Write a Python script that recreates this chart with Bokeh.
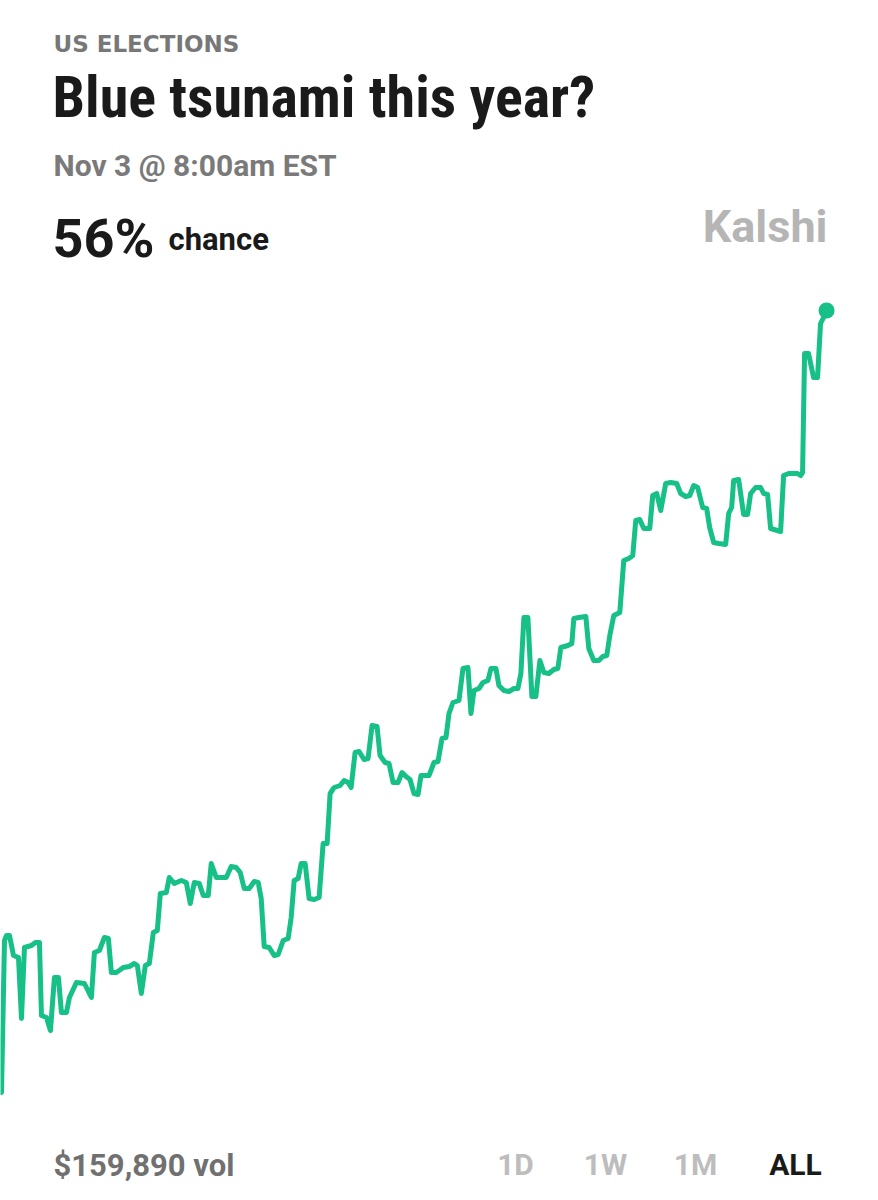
from bokeh.plotting import figure
from bokeh.models import Label, Range1d
from bokeh.embed import file_html
from bokeh.resources import INLINE

# market price history: days since open, chance in percent
days = [0, 0.6, 1.0, 1.6, 2.4, 3.4, 4.0, 4.6, 6.0, 6.8, 7.6, 8.0, 9.0, 9.8, 10.6, 11.4,
        12.0, 13.0, 13.6, 15.0, 16.6, 18.0, 18.6, 19.6, 20.6, 21.4, 22.0, 23.0, 24.4,
        25.6, 26.6, 27.2, 28.0, 28.8, 29.6, 30.4, 31.2, 31.8, 33.0, 33.6, 34.6, 36.0,
        37.0, 37.8, 38.6, 39.6, 40.4, 41.4, 42.0, 43.0, 45.0, 46.0, 47.0, 47.8, 48.6,
        49.6, 50.6, 51.4, 52.0, 52.6, 53.6, 54.6, 55.4, 56.4, 57.4, 58.0, 58.6, 59.4,
        60.0, 60.8, 61.6, 62.6, 63.6, 64.4, 65.2, 65.8, 66.6, 67.8, 68.6, 69.4, 70.0,
        70.8, 71.6, 72.6, 73.4, 74.2, 75.2, 75.8, 76.8, 77.6, 78.4, 79.4, 80.2, 81.0,
        81.8, 82.6, 83.4, 84.0, 85.6, 86.6, 87.4, 88.2, 89.0, 89.6, 90.4, 91.6, 92.4,
        93.4, 94.0, 94.6, 95.6, 96.4, 97.4, 98.0, 99.0, 99.6, 100.6, 101.6, 102.6,
        103.4, 104.0, 104.6, 105.4, 106.2, 107.0, 107.8, 108.6, 109.6, 110.6, 111.4,
        112.0, 113.4, 114.2, 114.6, 115.6, 117.0, 117.6, 118.6, 119.6, 120.4, 121.2,
        121.8, 122.6, 123.8, 124.6, 125.6, 126.4, 127.0, 127.8, 128.6, 129.8, 130.4,
        131.2, 132.0, 133.0, 134.0, 135.2, 136.0, 137.0, 137.8, 138.6, 139.4, 140.4,
        141.2, 141.8, 142.6, 143.6, 145.0, 145.6, 146.2, 146.6, 147.6, 148.6, 149.4,
        150.0, 151.0, 152.0, 152.6, 153.4, 154.0, 156.0, 156.6, 157.6, 159.4, 160.0,
        160.4, 160.8, 161.6, 162.6, 163.4, 164.0, 164.6, 165.2]
chance = [16.9, 24.5, 24.75, 24.75, 23.75, 23.65, 20.6, 24.15, 24.25, 24.4, 24.4, 20.75,
          20.65, 20.0, 22.65, 22.65, 20.9, 20.9, 21.65, 22.4, 22.35, 21.65, 23.9, 24.0,
          24.65, 24.6, 22.9, 22.9, 23.15, 23.2, 23.35, 23.25, 21.85, 23.25, 23.35, 24.9,
          25.0, 26.85, 26.9, 27.65, 27.35, 27.5, 27.4, 26.35, 27.4, 27.35, 26.75, 26.75,
          28.35, 27.65, 27.65, 28.2, 28.15, 27.9, 27.1, 27.1, 27.45, 27.4, 26.6, 24.2,
          24.15, 23.75, 23.8, 24.5, 24.6, 25.65, 27.5, 27.6, 28.35, 28.35, 26.6, 26.55,
          26.65, 29.35, 29.35, 31.85, 32.15, 32.25, 32.5, 32.4, 32.15, 33.9, 33.95, 33.55,
          33.6, 35.25, 35.2, 33.75, 33.4, 33.35, 32.4, 32.4, 32.9, 32.7, 32.55, 31.85,
          31.8, 32.75, 32.75, 33.4, 33.45, 34.6, 34.65, 35.85, 36.4, 36.5, 38.1, 38.15,
          35.85, 37.0, 37.1, 37.4, 37.5, 38.1, 38.1, 37.25, 37.0, 36.95, 37.1, 37.1,
          37.85, 40.65, 40.65, 36.7, 36.7, 38.5, 37.9, 37.85, 38.05, 38.1, 39.15, 39.25,
          39.35, 40.6, 40.65, 40.7, 39.1, 38.5, 38.5, 38.7, 38.75, 39.75, 40.75, 40.9,
          43.5, 43.6, 43.75, 45.5, 45.55, 45.1, 45.1, 46.75, 46.85, 46.0, 47.35, 47.4,
          47.35, 46.85, 46.7, 46.75, 47.25, 47.15, 46.15, 46.1, 45.15, 44.4, 44.35, 44.3,
          45.85, 46.15, 47.5, 47.55, 45.8, 45.8, 46.85, 47.15, 47.15, 46.85, 46.8, 45.1,
          44.95, 47.75, 47.85, 47.85, 47.75, 47.9, 53.85, 53.85, 52.65, 52.65, 55.35,
          55.65, 56.0]

category = "US ELECTIONS"
question = "Blue tsunami this year?"
updated = "Nov 3 @ 8:00am EST"
last_chance = "56%"
volume = "$159,890 vol"
periods = ["1D", "1W", "1M", "ALL"]

W, H = 862, 1184
GREEN = "#16c086"
NARROW = "Noto Sans ExtraCondensed, Roboto Condensed, Noto Sans Condensed, Roboto"

p = figure(width=W, height=H, output_backend="svg", toolbar_location=None,
           x_range=Range1d(-0.2, 172.4), y_range=Range1d(12.3, 71.5),
           min_border=0, outline_line_color=None)
p.axis.visible = False
p.grid.visible = False

p.line(days, chance, line_color=GREEN, line_width=5, line_join="round", line_cap="round")
p.scatter(days[-1:], chance[-1:], size=16, fill_color=GREEN, line_color=None)


def add_text(txt, x, y, size, color, font="Roboto", align="left", style="bold"):
    # x, y in picture pixels from the top-left, y is the baseline
    # (labels land ~0.37 em low, so lift them by that much)
    p.add_layout(Label(x=x, y=H - y + 0.37 * size, x_units="screen", y_units="screen",
                       text=txt, text_font=font, text_font_size=f"{size}px",
                       text_font_style=style, text_color=color, text_align=align,
                       text_baseline="alphabetic"))


add_text(category, 53, 52, 23, "#777777", font="DejaVu Sans")
add_text(question, 52, 118, 58, "#1a1a1a", font=NARROW)
add_text(updated, 53, 176, 30, "#7a7a7a")
add_text(last_chance, 52, 258, 54, "#1a1a1a")
add_text("chance", 168, 250, 31, "#1a1a1a")
add_text("Kalshi", 827, 243, 45, "#b5b5b5", align="right")
add_text(volume, 53, 1176, 31, "#707070")

period_x = [515, 605, 695, 795]
for lbl, px in zip(periods, period_x):
    col = "#1a1a1a" if lbl == "ALL" else "#bdbdbd"
    add_text(lbl, px, 1175, 30, col, align="center")

open("out.html", "w").write(file_html(p, INLINE))
